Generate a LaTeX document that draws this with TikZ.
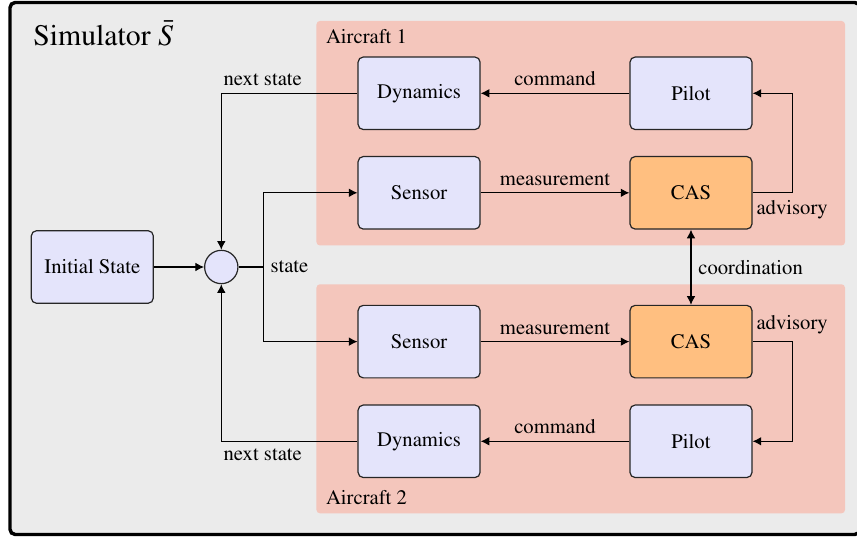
\documentclass[12pt,tikz,border=0pt]{standalone}
\usepackage[T1]{fontenc}
\usepackage{mathptmx}
\usetikzlibrary{arrows.meta}
\definecolor{simgray}{HTML}{EBEBEB}
\definecolor{acred}{HTML}{F4C6BC}
\definecolor{blockblue}{HTML}{E4E4FB}
\definecolor{casorange}{HTML}{FFBF80}

\begin{document}
\begin{tikzpicture}[
    block/.style={draw=black!85, fill=blockblue, rounded corners=3pt, line width=0.7pt,
      minimum width=2.49cm, minimum height=1.48cm},
    casblock/.style={block, fill=casorange},
    sumnode/.style={circle, draw=black!85, fill=blockblue, line width=0.7pt,
      minimum size=0.68cm, inner sep=0pt},
    wire/.style={line width=0.6pt},
    arr/.style={wire, -{Latex[length=5pt,width=5pt]}},
    darr/.style={wire, {Latex[length=5pt,width=5pt]}-{Latex[length=5pt,width=5pt]}},
    panel/.style={fill=acred, rounded corners=2pt}]
  \useasboundingbox (0,0) rectangle (17.49,10.959);
  \draw[fill=simgray, line width=2pt, rounded corners=3pt] (0.204,0.051) rectangle (17.55,10.908);
  \fill[panel] (6.459,5.949) rectangle (17.245,10.531);
  \fill[panel] (6.459,0.483) rectangle (17.245,5.157);
  \node[anchor=base west, inner sep=0pt, font=\Large] (title) at (0.673,10.04) {Simulator $\bar{S}$};
  \node[anchor=base west, inner sep=0pt] (ac1) at (6.647,10.075) {Aircraft 1};
  \node[anchor=base west, inner sep=0pt] (ac2) at (6.647,0.653) {Aircraft 2};

  \node[block] (init) at (1.884,5.51) {Initial State};
  \node[sumnode] (sum) at (4.516,5.51) {};
  \coordinate (split) at (5.373,5.51);
  \foreach \n/\yd/\ys in {1/9.055/7.024, 2/1.953/3.987} {
    \node[block] (dyn\n) at (8.553,\yd) {Dynamics};
    \node[block] (pil\n) at (14.102,\yd) {Pilot};
    \node[block] (sen\n) at (8.553,\ys) {Sensor};
    \node[casblock] (cas\n) at (14.102,\ys) {CAS};
    \draw[arr] (pil\n) -- node[above] (cmd\n) {command} (dyn\n);
    \draw[arr] (sen\n) -- node[above] (meas\n) {measurement} (cas\n);
    \draw[arr] (split) |- (sen\n);
  }
  \draw[arr] (init) -- (sum);
  \draw[wire] (sum) -- (split);
  \node[right] (statelbl) at (split) {state};
  \draw[arr] (dyn1) -| node[pos=0.5, above right, inner xsep=1pt] (next1) {next state} (sum);
  \draw[arr] (dyn2) -| node[pos=0.5, below right, inner xsep=1pt] (next2) {next state} (sum);
  \draw[arr] (cas1.east) node[below right, inner xsep=2pt] (adv1) {advisory} -- ++(0.81,0) |- (pil1);
  \draw[arr] (cas2.east) node[above right, inner xsep=2pt] (adv2) {advisory} -- ++(0.81,0) |- (pil2);
  \draw[darr] (cas1) -- node[right] (coord) {coordination} (cas2);
\end{tikzpicture}
\end{document}
